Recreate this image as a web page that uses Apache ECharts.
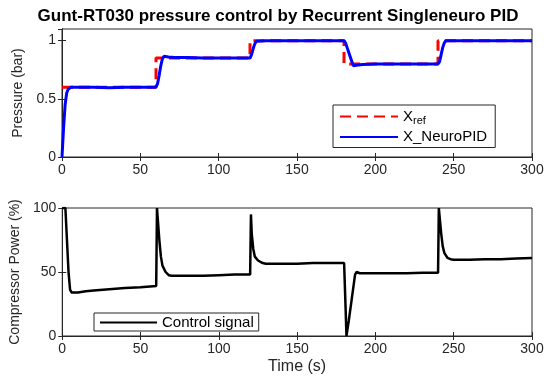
<!DOCTYPE html>
<html>
<head>
<meta charset="utf-8">
<script src="https://cdn.jsdelivr.net/npm/echarts@6/dist/echarts.min.js"></script>
<style>
  html, body { margin: 0; background: #fff; }
  #chart { width: 556px; height: 376px; }
</style>
</head>
<body>
<div id="chart"></div>
<script>
// reference pressure (bar)
const refTime = [0, 60, 60, 120, 120, 180, 180, 240, 240, 300]
const refValue = [0.6, 0.6, 0.85, 0.85, 1.0, 1.0, 0.8, 0.8, 1.0, 1.0]

// measured pressure with neuro PID (bar)
const pidTime = [0, 1, 2, 3, 4, 6, 10, 20, 30, 40, 50, 60, 61, 62, 63, 64, 65, 66, 68, 72, 80, 90, 100, 110,
  120, 121, 122, 123, 124, 125, 130, 140, 150, 160, 170, 180, 181, 182, 183, 184, 185, 186, 187, 189, 192,
  200, 210, 220, 230, 240, 241, 242, 243, 244, 245, 250, 260, 270, 280, 290, 300]
const pidValue = [0, 0.25, 0.45, 0.55, 0.585, 0.6, 0.6, 0.6, 0.595, 0.6, 0.6, 0.6, 0.63, 0.7, 0.78, 0.84, 0.865, 0.87, 0.86, 0.855, 0.855, 0.85, 0.85, 0.85,
  0.85, 0.88, 0.93, 0.97, 0.995, 1.0, 1.0, 1.0, 1.0, 1.0, 1.0, 1.0, 0.98, 0.94, 0.9, 0.86, 0.82, 0.785, 0.78, 0.79, 0.795,
  0.8, 0.8, 0.8, 0.8, 0.8, 0.82, 0.88, 0.94, 0.98, 1.0, 1.0, 1.0, 1.0, 1.0, 1.0, 1.0]

// compressor power (%)
const uTime = [0, 2, 3, 4, 5, 6, 10, 15, 20, 30, 40, 50, 60, 60.5, 61, 62, 63, 64, 66, 68, 70, 80, 90, 100, 110,
  120, 120.5, 121, 122, 123, 125, 128, 130, 140, 150, 160, 170, 180, 181, 181.5, 183, 185, 187, 188, 190,
  200, 210, 220, 230, 240, 240.5, 241, 242, 243, 244, 246, 248, 250, 260, 270, 280, 290, 300]
const uValue = [100, 100, 75, 50, 36, 34, 34, 35, 35.5, 36.5, 37.5, 38, 39, 100, 100, 75, 62, 55, 50, 47.5, 47, 47, 47, 47.5, 48,
  48, 95, 80, 68, 62, 59, 57, 56.5, 56.5, 56.5, 57, 57, 57, 20, 0, 12, 30, 48, 50, 49,
  49, 49, 49, 49.5, 49.5, 100, 100, 80, 70, 65, 61, 60, 59.5, 59.5, 60, 60, 60.5, 61]

const timeTicks = [0, 50, 100, 150, 200, 250, 300]

const zip = (xs, ys) => xs.map((x, i) => [x, ys[i]])

const FONT = 'Liberation Sans, Arial, sans-serif'
const AX = '#262626'

function timeAxis(grid, pos, labels, name) {
  return {
    type: 'value', gridIndex: grid, position: pos,
    min: timeTicks[0], max: timeTicks[timeTicks.length - 1], interval: 50,
    name: name || '', nameLocation: 'middle', nameGap: 23,
    nameTextStyle: { fontFamily: FONT, fontSize: 16, color: AX },
    axisLine: { show: true, lineStyle: { color: AX, width: 1 } },
    axisTick: { show: true, inside: true, length: 4, lineStyle: { color: AX } },
    axisLabel: { show: labels, fontFamily: FONT, fontSize: 14, color: AX, margin: 6 },
    splitLine: { show: false }
  }
}

function valAxis(grid, pos, labels, min, max, interval, name, gap) {
  return {
    type: 'value', gridIndex: grid, position: pos,
    min: min, max: max, interval: interval,
    name: name || '', nameLocation: 'middle', nameGap: gap || 30,
    nameTextStyle: { fontFamily: FONT, fontSize: 14, color: AX },
    axisLine: { show: true, lineStyle: { color: AX, width: 1 } },
    axisTick: { show: true, inside: true, length: 4, lineStyle: { color: AX } },
    axisLabel: { show: labels, fontFamily: FONT, fontSize: 14, color: AX, margin: 6, showMaxLabel: max === 100 },
    splitLine: { show: false }
  }
}

const chart = echarts.init(document.getElementById('chart'))
chart.setOption({
  animation: false,
  title: {
    text: 'Gunt-RT030 pressure control by Recurrent Singleneuro PID',
    left: 'center', top: 3,
    textStyle: { fontFamily: FONT, fontSize: 17, fontWeight: 'bold', color: '#000' }
  },
  grid: [
    { left: 62, right: 24, top: 29, height: 128, show: true, borderColor: AX, borderWidth: 1 },
    { left: 62, right: 24, top: 208, height: 128, show: true, borderColor: AX, borderWidth: 1 }
  ],
  xAxis: [
    timeAxis(0, 'bottom', true),
    timeAxis(0, 'top', false),
    timeAxis(1, 'bottom', true, 'Time (s)'),
    timeAxis(1, 'top', false)
  ],
  yAxis: [
    valAxis(0, 'left', true, 0, 1.1, 0.5, 'Pressure (bar)', 32),
    valAxis(0, 'right', false, 0, 1.1, 0.5),
    valAxis(1, 'left', true, 0, 100, 50, 'Compressor Power (%)', 34),
    valAxis(1, 'right', false, 0, 100, 50)
  ],
  legend: [
    {
      data: ['Xref', 'X_NeuroPID'],
      orient: 'vertical', left: 333, top: 105, width: 163,
      itemWidth: 58, itemHeight: 10, itemGap: 3,
      padding: [4, 8, 3, 6],
      borderColor: AX, borderWidth: 1, backgroundColor: '#fff',
      itemStyle: { opacity: 0 },
      formatter: n => n === 'Xref' ? '{a|X}{b|ref}' : '{a|' + n + '}',
      textStyle: {
        rich: {
          a: { fontFamily: FONT, fontSize: 15, color: '#000', height: 18 },
          b: { fontFamily: FONT, fontSize: 11, color: '#000', padding: [9, 0, 0, 0] }
        }
      }
    },
    {
      data: ['Control signal'],
      left: 94, top: 313, itemWidth: 57, itemHeight: 10,
      padding: [2, 5, 1, 5],
      borderColor: AX, borderWidth: 1, backgroundColor: '#fff',
      itemStyle: { opacity: 0 },
      textStyle: { fontFamily: FONT, fontSize: 15, color: '#000' }
    }
  ],
  series: [
    {
      name: 'Xref', type: 'line', xAxisIndex: 0, yAxisIndex: 0,
      data: zip(refTime, refValue), showSymbol: false, symbol: 'none',
      lineStyle: { color: '#ff0000', width: 3, type: [11, 6] }, itemStyle: { color: '#ff0000' },
      z: 2
    },
    {
      name: 'X_NeuroPID', type: 'line', xAxisIndex: 0, yAxisIndex: 0,
      data: zip(pidTime, pidValue), showSymbol: false, symbol: 'none',
      lineStyle: { color: '#0000ff', width: 3 }, itemStyle: { color: '#0000ff' },
      z: 3
    },
    {
      name: 'Control signal', type: 'line', xAxisIndex: 2, yAxisIndex: 2,
      data: zip(uTime, uValue), showSymbol: false, symbol: 'none',
      lineStyle: { color: '#000', width: 2.5 }, itemStyle: { color: '#000' }
    }
  ]
})
</script>
</body>
</html>
